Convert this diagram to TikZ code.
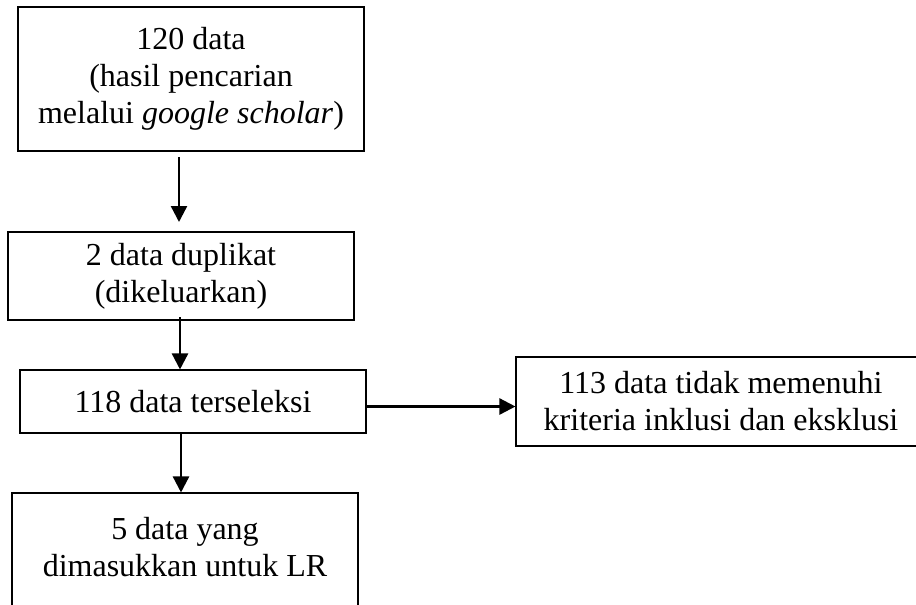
\documentclass[tikz,border=0pt]{standalone}
\usepackage{fontspec}
\setmainfont{Liberation Serif}
\usetikzlibrary{arrows.meta}

\begin{document}
\begin{tikzpicture}[x=0.75pt, y=-0.75pt,
	box/.style = {draw, line width=0.8pt, align=center, inner sep=0pt, font=\fontsize{24}{27.75}\selectfont},
	flow/.style = {line width=1.8pt, -{Triangle[width=12pt, length=12pt]}}]
				\useasboundingbox (0,0) rectangle (916,604);

				\node[box, minimum width=259.5pt, minimum height=108pt] (data) at (191,79) {120 data\\(hasil pencarian\\melalui \textit{google scholar})};
				\node[box, minimum width=259.5pt, minimum height=66pt] (dup) at (181,276) {2 data duplikat\\(dikeluarkan)};
				\node[box, minimum width=259.5pt, minimum height=47.25pt] (sel) at (193,401.5) {118 data terseleksi};
				\node[box, minimum width=307.5pt, minimum height=66.75pt] (out) at (721,401.5) {113 data tidak memenuhi\\kriteria inklusi dan eksklusi};
				\node[box, minimum width=259.5pt, minimum height=108pt] (lr) at (185,565) {5 data yang\\dimasukkan untuk LR\\ };

				\coordinate (a1) at (179,157);
				\coordinate (b1) at (179,222);
				\coordinate (a2) at (180,317);
				\coordinate (a4) at (181,433);

				\draw[flow] (a1) -- (b1);
				\draw[flow] (a2) -- (a2 |- sel.north);
				\draw[flow] (sel.east |- out.west) ++(0,5) coordinate (a3) (a3) -- (a3 -| out.west);
				\draw[flow] (a4) -- (a4 |- lr.north);

			\end{tikzpicture}
\end{document}
